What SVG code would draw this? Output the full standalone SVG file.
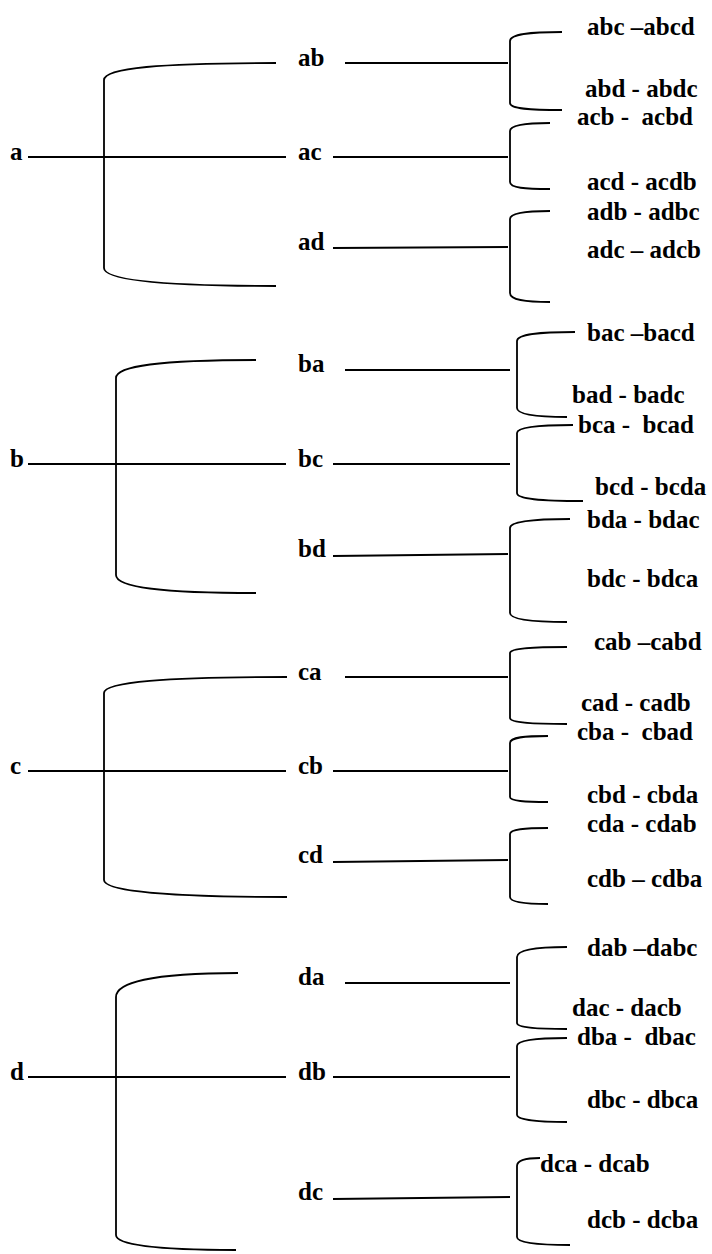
<svg xmlns="http://www.w3.org/2000/svg" width="712" height="1254" viewBox="0 0 712 1254">
  <style>
    text { font-family: "Liberation Serif", "Times New Roman", serif; font-weight: bold; font-size: 25px; fill: #000; white-space: pre; }
    .ln { stroke: #000; stroke-width: 1.8; fill: none; }
    .br { stroke: #000; stroke-width: 1.8; fill: none; }
  </style>
  <rect width="712" height="1254" fill="#fff"/>

  <!-- connectors: root lines, child lines and brackets -->
  <g id="connectors">
    <!-- a -->
    <line class="ln" x1="28" y1="157" x2="286" y2="157"/>
    <path class="br" d="M276,63 C160,63 104,68 104,80 V268 C104,280 160,286 276,286"/>
    <line class="ln" x1="345" y1="63" x2="508" y2="63"/>
    <line class="ln" x1="333" y1="157" x2="508" y2="157"/>
    <line class="ln" x1="333" y1="248" x2="508" y2="247"/>
    <path class="br" d="M562,32 C530,32 510,34 510,41 V103 C510,109 530,110 562,110"/>
    <path class="br" d="M550,123 C525,123 510,125 510,131 V182 C510,188 525,189 550,189"/>
    <path class="br" d="M550,211 C525,211 510,213 510,219 V293 C510,300 525,302 550,302"/>

    <!-- b -->
    <line class="ln" x1="28" y1="464" x2="286" y2="464"/>
    <path class="br" d="M256,360 C160,360 116,366 116,378 V575 C116,587 160,593 256,593"/>
    <line class="ln" x1="345" y1="370" x2="510" y2="370"/>
    <line class="ln" x1="333" y1="464" x2="510" y2="464"/>
    <line class="ln" x1="333" y1="556" x2="508" y2="554"/>
    <path class="br" d="M575,332 C540,332 517,334 517,341 V408 C517,415 540,417 567,417"/>
    <path class="br" d="M573,425 C540,425 517,427 517,433 V493 C517,499 540,501 583,501"/>
    <path class="br" d="M570,519 C535,519 510,521 510,528 V613 C510,620 535,622 567,622"/>

    <!-- c -->
    <line class="ln" x1="28" y1="771" x2="286" y2="771"/>
    <path class="br" d="M287,677 C165,677 104,682 104,693 V880 C104,891 165,897 287,897"/>
    <line class="ln" x1="345" y1="677" x2="508" y2="677"/>
    <line class="ln" x1="333" y1="771" x2="508" y2="771"/>
    <line class="ln" x1="333" y1="862" x2="508" y2="860"/>
    <path class="br" d="M567,647 C535,647 510,648 510,653 V718 C510,723 535,724 567,724"/>
    <path class="br" d="M548,736 C525,736 510,737 510,743 V797 C510,801 525,802 548,802"/>
    <path class="br" d="M548,828 C525,828 510,829 510,834 V897 C510,902 525,904 548,904"/>

    <!-- d -->
    <line class="ln" x1="28" y1="1077" x2="286" y2="1077"/>
    <path class="br" d="M238,973 C150,973 116,983 116,997 V1235 C116,1244 150,1250 236,1250"/>
    <line class="ln" x1="345" y1="983" x2="510" y2="983"/>
    <line class="ln" x1="333" y1="1077" x2="510" y2="1077"/>
    <line class="ln" x1="333" y1="1199" x2="510" y2="1197"/>
    <path class="br" d="M567,947 C540,947 517,949 517,957 V1023 C517,1028 540,1029 567,1029"/>
    <path class="br" d="M567,1038 C540,1038 517,1040 517,1046 V1115 C517,1120 540,1122 567,1122"/>
    <path class="br" d="M540,1158 C527,1158 517,1160 517,1166 V1237 C517,1243 540,1245 570,1245"/>
  </g>

  <!-- roots -->
  <g id="node-a"><text x="10" y="160">a</text></g>
  <g id="node-b"><text x="10" y="467">b</text></g>
  <g id="node-c"><text x="10" y="774">c</text></g>
  <g id="node-d"><text x="10" y="1080">d</text></g>

  <!-- second level -->
  <g id="node-ab"><text x="298" y="66">ab</text></g>
  <g id="node-ac"><text x="298" y="160">ac</text></g>
  <g id="node-ad"><text x="298" y="250">ad</text></g>
  <g id="node-ba"><text x="298" y="372">ba</text></g>
  <g id="node-bc"><text x="298" y="467">bc</text></g>
  <g id="node-bd"><text x="298" y="557">bd</text></g>
  <g id="node-ca"><text x="298" y="680">ca</text></g>
  <g id="node-cb"><text x="298" y="774">cb</text></g>
  <g id="node-cd"><text x="298" y="863">cd</text></g>
  <g id="node-da"><text x="298" y="985">da</text></g>
  <g id="node-db"><text x="298" y="1080">db</text></g>
  <g id="node-dc"><text x="298" y="1200">dc</text></g>

  <!-- leaves -->
  <g id="node-abc"><text x="587" y="35">abc –abcd</text></g>
  <g id="node-abd"><text x="585" y="97">abd - abdc</text></g>
  <g id="node-acb"><text x="577" y="125">acb -  acbd</text></g>
  <g id="node-acd"><text x="587" y="190">acd - acdb</text></g>
  <g id="node-adb"><text x="587" y="220">adb - adbc</text></g>
  <g id="node-adc"><text x="587" y="258">adc – adcb</text></g>

  <g id="node-bac"><text x="587" y="341">bac –bacd</text></g>
  <g id="node-bad"><text x="572" y="403">bad - badc</text></g>
  <g id="node-bca"><text x="578" y="433">bca -  bcad</text></g>
  <g id="node-bcd"><text x="595" y="495">bcd - bcda</text></g>
  <g id="node-bda"><text x="587" y="528">bda - bdac</text></g>
  <g id="node-bdc"><text x="587" y="587">bdc - bdca</text></g>

  <g id="node-cab"><text x="594" y="650">cab –cabd</text></g>
  <g id="node-cad"><text x="581" y="711">cad - cadb</text></g>
  <g id="node-cba"><text x="577" y="740">cba -  cbad</text></g>
  <g id="node-cbd"><text x="587" y="803">cbd - cbda</text></g>
  <g id="node-cda"><text x="587" y="832">cda - cdab</text></g>
  <g id="node-cdb"><text x="587" y="887">cdb – cdba</text></g>

  <g id="node-dab"><text x="587" y="956">dab –dabc</text></g>
  <g id="node-dac"><text x="572" y="1016">dac - dacb</text></g>
  <g id="node-dba"><text x="577" y="1045">dba -  dbac</text></g>
  <g id="node-dbc"><text x="587" y="1108">dbc - dbca</text></g>
  <g id="node-dca"><text x="540" y="1172">dca - dcab</text></g>
  <g id="node-dcb"><text x="587" y="1228">dcb - dcba</text></g>
</svg>
